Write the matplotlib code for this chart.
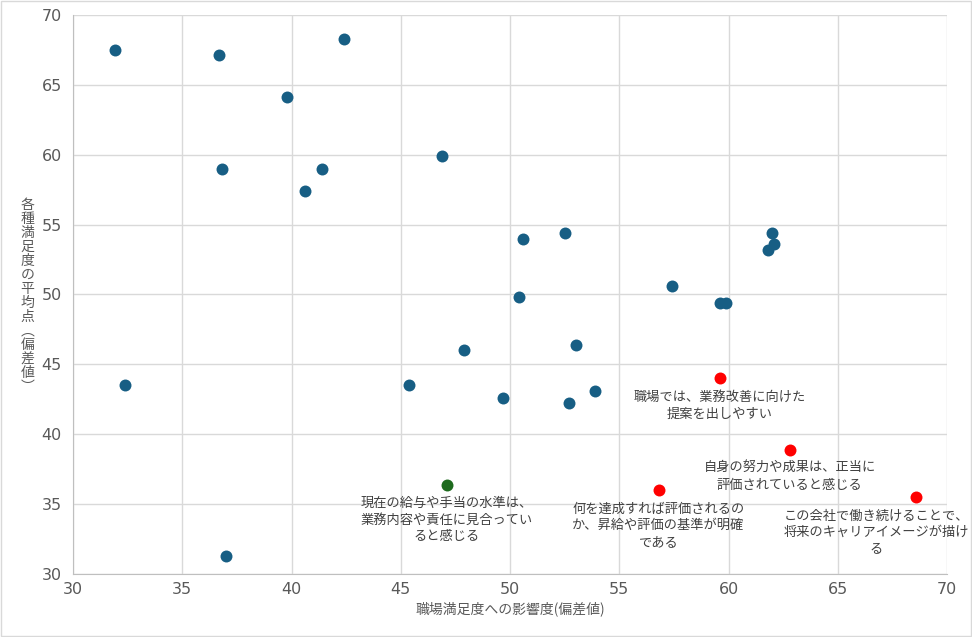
import matplotlib

matplotlib.use("Agg")
import matplotlib.pyplot as plt
from matplotlib.patches import Rectangle

plt.rcParams["font.family"] = ["Noto Sans CJK JP", "DejaVu Sans"]

# %% data

# other items (blue)
x_other = [31.9, 36.7, 39.8, 42.4, 36.8, 40.6, 41.4, 46.9, 50.6, 52.5,
           50.4, 47.9, 53.0, 57.4, 59.6, 59.9, 61.8, 62.0, 62.1, 32.4,
           45.4, 49.7, 52.7, 53.9, 37.0]
y_other = [67.5, 67.1, 64.1, 68.3, 59.0, 57.4, 59.0, 59.9, 54.0, 54.4,
           49.8, 46.0, 46.4, 50.6, 49.4, 49.4, 53.2, 54.4, 53.6, 43.5,
           43.5, 42.6, 42.2, 43.1, 31.3]

# salary item (green)
x_green = [47.1]
y_green = [36.4]
label_green = ["現在の給与や手当の水準は、\n業務内容や責任に見合ってい\nると感じる"]

# evaluation items (red)
x_red = [59.6, 62.8, 56.8, 68.6]
y_red = [44.0, 38.9, 36.0, 35.5]
labels_red = [
    "職場では、業務改善に向けた\n提案を出しやすい",
    "自身の努力や成果は、正当に\n評価されていると感じる",
    "何を達成すれば評価されるの\nか、昇給や評価の基準が明確\nである",
    "この会社で働き続けることで、\n将来のキャリアイメージが描け\nる",
]
# label x positions are shifted by the chart to stay inside the plot
label_x_red = [59.6, 62.8, 56.8, 66.75]

xticks = [30, 35, 40, 45, 50, 55, 60, 65, 70]
yticks = [30, 35, 40, 45, 50, 55, 60, 65, 70]

xlabel = "職場満足度への影響度(偏差値)"
ylabel = "各種満足度の平均点(偏差値)"


# %% plot


def plot_scatter():
    fig = plt.figure(figsize=(9.72, 6.37), dpi=100)
    ax = fig.add_axes([0.0751, 0.0989, 0.8992, 0.8776])

    ax.scatter(x_other, y_other, s=74, color="#175E84", zorder=3, linewidths=0)
    ax.scatter(x_green, y_green, s=74, color="#1E6B1E", zorder=3, linewidths=0)
    ax.scatter(x_red, y_red, s=74, color="#FF0000", zorder=3, linewidths=0)

    text_kw = dict(textcoords="offset points", ha="center", va="top",
                   fontsize=9.5, color="#404040", linespacing=1.35)
    for x, y, lab in zip(x_green, y_green, label_green):
        ax.annotate(lab, (x, y), xytext=(0, -9), **text_kw)
    for x, y, lx, lab in zip(x_red, y_red, label_x_red, labels_red):
        ax.annotate(lab, (lx, y), xytext=(0, -9), **text_kw)

    ax.set_xlim(30, 70)
    ax.set_ylim(30, 70)
    ax.set_xticks(xticks)
    ax.set_yticks(yticks)
    ax.grid(True, color="#D9D9D9", linewidth=1)
    ax.set_axisbelow(True)
    ax.tick_params(length=0, labelsize=11.5, labelcolor="#595959")
    ax.tick_params(axis="y", pad=8)
    ax.tick_params(axis="x", pad=6)
    for lab in ax.get_xticklabels() + ax.get_yticklabels():
        lab.set_family("DejaVu Sans")
    for side in ["top", "right"]:
        ax.spines[side].set_visible(False)
    for side in ["left", "bottom"]:
        ax.spines[side].set_color("#BFBFBF")

    ax.set_xlabel(xlabel, fontsize=10, color="#595959", labelpad=3)
    # stacked vertical label, upright characters
    vert = ylabel.replace("(", "︵").replace(")", "︶")
    fig.text(0.028, 0.535, "\n".join(vert), ha="center", va="center",
             fontsize=10, color="#595959", linespacing=1.0)

    fig.patches.append(Rectangle((0.001, 0.001), 0.998, 0.998,
                                 transform=fig.transFigure, fill=False,
                                 edgecolor="#D9D9D9", linewidth=1))

    fig.savefig("out.png", dpi=100)


plot_scatter()
